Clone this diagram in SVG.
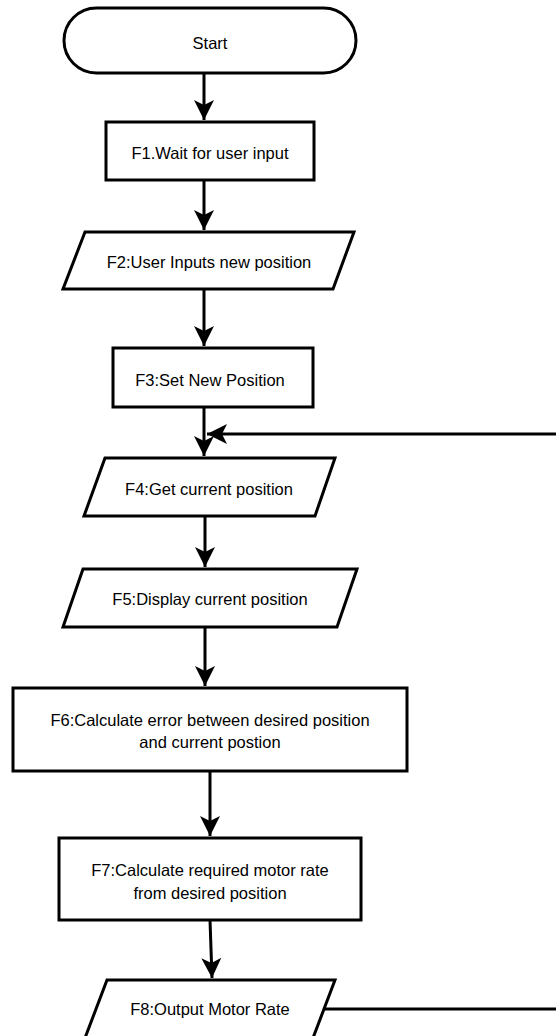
<svg xmlns="http://www.w3.org/2000/svg" width="556" height="1036" viewBox="0 0 556 1036">
  <style>
    .shape { fill: #ffffff; stroke: #000000; stroke-width: 3; }
    .label { font-family: "Liberation Sans", Arial, sans-serif; font-size: 16.5px; fill: #000000; text-anchor: middle; }
    .edge { fill: none; stroke: #000000; stroke-width: 3; marker-end: url(#arrow); }
  </style>
  <defs>
    <marker id="arrow" markerUnits="userSpaceOnUse" markerWidth="22" markerHeight="22" viewBox="-21 -11 22 22" refX="0" refY="0" orient="auto">
      <path d="M0,0 L-20,-10 L-15,0 L-20,10 Z" fill="#000000"/>
    </marker>
  </defs>

  <!-- connectors -->
  <g id="connectors">
    <path class="edge" d="M204,73 V120"/>
    <path class="edge" d="M204,180 V230"/>
    <path class="edge" d="M204,289 V346"/>
    <path class="edge" d="M204,407 V456"/>
    <path class="edge" d="M205,516 V567"/>
    <path class="edge" d="M205,627 V686"/>
    <path class="edge" d="M210,771 V836"/>
    <path class="edge" d="M210,920 L212,978"/>
    <!-- loop back from output to position read -->
    <path class="edge" d="M324,1009 H580 V434 H207"/>
  </g>

  <g id="start">
    <rect class="shape" x="64" y="8" width="292" height="65" rx="32.5" ry="32.5"/>
    <text class="label" x="210" y="49">Start</text>
  </g>

  <g id="f1">
    <rect class="shape" x="106" y="122" width="208" height="58"/>
    <text class="label" x="210" y="159">F1.Wait for user input</text>
  </g>

  <g id="f2">
    <polygon class="shape" points="85,232 354,232 333,289 63,289"/>
    <text class="label" x="209" y="268">F2:User Inputs new position</text>
  </g>

  <g id="f3">
    <rect class="shape" x="113" y="348" width="200" height="59"/>
    <text class="label" x="210" y="386">F3:Set New Position</text>
  </g>

  <g id="f4">
    <polygon class="shape" points="105,458 335,458 315,516 84,516"/>
    <text class="label" x="209" y="495">F4:Get current position</text>
  </g>

  <g id="f5">
    <polygon class="shape" points="83,569 357,569 337,627 63,627"/>
    <text class="label" x="210" y="605">F5:Display current position</text>
  </g>

  <g id="f6">
    <rect class="shape" x="13" y="688" width="394" height="83"/>
    <text class="label" x="210" y="726">F6:Calculate error between desired position</text>
    <text class="label" x="210" y="748">and current postion</text>
  </g>

  <g id="f7">
    <rect class="shape" x="59" y="838" width="302" height="82"/>
    <text class="label" x="210" y="876">F7:Calculate required motor rate</text>
    <text class="label" x="210" y="899">from desired position</text>
  </g>

  <g id="f8">
    <polygon class="shape" points="107,980 335,980 313,1038 85,1038"/>
    <text class="label" x="210" y="1015">F8:Output Motor Rate</text>
  </g>
</svg>
